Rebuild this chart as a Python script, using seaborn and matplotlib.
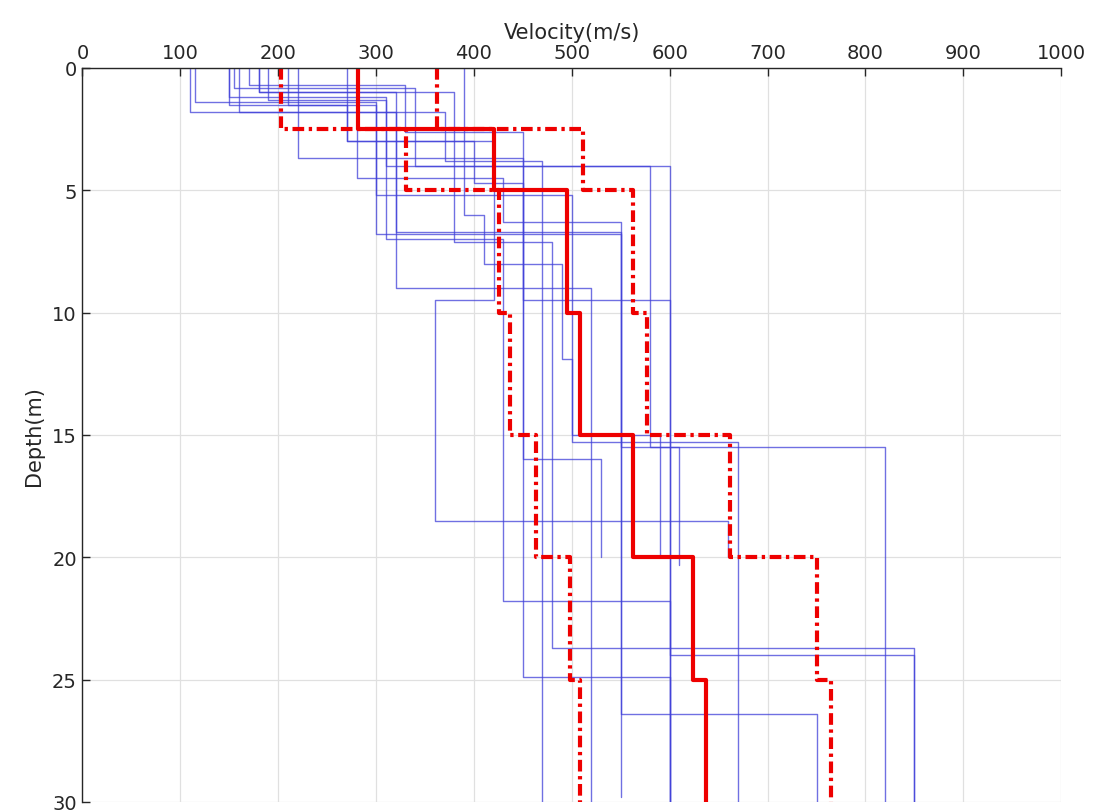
import numpy as np
import pandas as pd
import matplotlib
matplotlib.use("Agg")
import matplotlib.pyplot as plt
import seaborn as sns

# Individual shear-wave velocity profiles: layer velocities (m/s) and layer bottom depths (m)
vel_p01 = [110, 370, 470];                depth_p01 = [1.8, 3.8, 30]
vel_p02 = [115, 300, 550, 750];           depth_p02 = [1.4, 6.8, 26.4, 30]
vel_p03 = [150, 310, 430, 600];           depth_p03 = [1.2, 7.0, 21.8, 30]
vel_p04 = [155, 340, 600, 850];           depth_p04 = [0.8, 4.0, 24.0, 30]
vel_p05 = [160, 320, 520];                depth_p05 = [1.8, 9.0, 30]
vel_p06 = [170, 330, 450, 600];           depth_p06 = [0.7, 2.6, 9.5, 30]
vel_p07 = [220, 450, 530];                depth_p07 = [3.7, 16.0, 20.0]
vel_p08 = [190, 310, 580, 820];           depth_p08 = [1.3, 4.0, 15.5, 30]
vel_p09 = [210, 270, 420, 360, 660];      depth_p09 = [1.5, 3.0, 9.5, 18.5, 20.0]
vel_p10 = [390, 410, 490, 500, 670];      depth_p10 = [6.0, 8.0, 11.9, 15.3, 30]
vel_p11 = [180, 380, 480, 850];           depth_p11 = [1.0, 7.1, 23.7, 30]
vel_p12 = [280, 430, 550];                depth_p12 = [4.5, 6.3, 29.8]
vel_p13 = [270, 400, 450, 600];           depth_p13 = [3.0, 4.7, 24.9, 30]
vel_p14 = [150, 300, 500, 590];           depth_p14 = [1.5, 5.2, 15.0, 20.0]
vel_p15 = [180, 320, 550, 610];           depth_p15 = [1.0, 6.7, 15.5, 20.3]

# Statistical profiles
layer_bottoms = [2.5, 5, 10, 15, 20, 25, 30]
vel_median = [282, 420, 495, 508, 562, 624, 637]
vel_low = [203, 331, 426, 437, 463, 498, 508]
vel_high = [362, 511, 563, 577, 662, 750, 765]

profiles = [
    (vel_p01, depth_p01), (vel_p02, depth_p02), (vel_p03, depth_p03),
    (vel_p04, depth_p04), (vel_p05, depth_p05), (vel_p06, depth_p06),
    (vel_p07, depth_p07), (vel_p08, depth_p08), (vel_p09, depth_p09),
    (vel_p10, depth_p10), (vel_p11, depth_p11), (vel_p12, depth_p12),
    (vel_p13, depth_p13), (vel_p14, depth_p14), (vel_p15, depth_p15),
]


def stairs(vels, bottoms):
    """Turn layer velocities/bottoms into step-line vertices."""
    xs, ys = [], []
    top = 0.0
    for v, b in zip(vels, bottoms):
        xs += [v, v]
        ys += [top, b]
        top = b
    return xs, ys


rows = []
for i, (v, d) in enumerate(profiles):
    xs, ys = stairs(v, d)
    for k, (x, y) in enumerate(zip(xs, ys)):
        rows.append({"profile": i, "order": k, "vel": x, "depth": y})
df_prof = pd.DataFrame(rows)

sns.set_style("white")
plt.rcParams["font.family"] = ["DejaVu Sans"]

fig = plt.figure(figsize=(10.94, 8.12), dpi=100)
ax = fig.add_axes([0.0754, 0.0111, 0.8946, 0.904])

sns.lineplot(data=df_prof, x="vel", y="depth", units="profile", estimator=None,
             sort=False, color=(0.25, 0.25, 0.85), alpha=0.75, linewidth=1.0, ax=ax)

for vals, style in [(vel_low, (0, (2.8, 1.1, 0.8, 1.1))),
                    (vel_high, (0, (2.8, 1.1, 0.8, 1.1))),
                    (vel_median, "-")]:
    xs, ys = stairs(vals, layer_bottoms)
    sns.lineplot(x=xs, y=ys, sort=False, estimator=None, color="#ee0000",
                 linewidth=3.0, linestyle=style, ax=ax)

ax.set_xlim(0, 1000)
ax.set_ylim(30, 0)
ax.set_xticks(np.arange(0, 1001, 100))
ax.set_yticks(np.arange(0, 31, 5))
ax.xaxis.tick_top()
ax.xaxis.set_label_position("top")
ax.set_xlabel("Velocity(m/s)", fontsize=15, color="#262626", labelpad=4)
ax.set_ylabel("Depth(m)", fontsize=15, color="#262626", labelpad=6)
ax.tick_params(axis="both", direction="in", length=6, width=1.0, labelsize=14,
               colors="#262626", top=True, bottom=False, left=True, right=False,
               pad=4)
ax.grid(True, color="#e0e0e0", linewidth=0.9)
ax.set_axisbelow(True)
for side in ["right", "bottom"]:
    ax.spines[side].set_visible(False)
for side in ["top", "left"]:
    ax.spines[side].set_color("#262626")
    ax.spines[side].set_linewidth(1.0)

fig.savefig("out.png", dpi=100, facecolor="white")
